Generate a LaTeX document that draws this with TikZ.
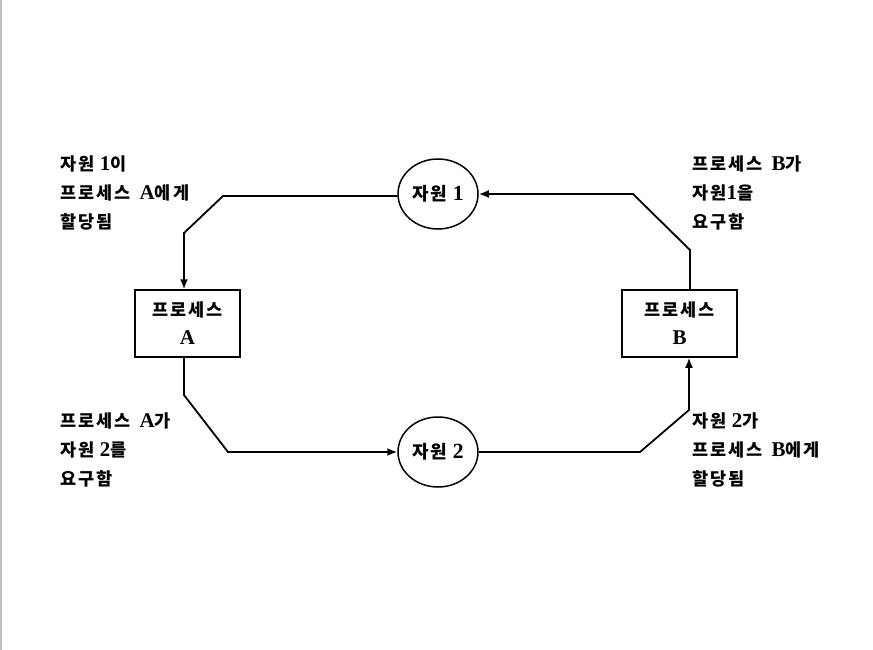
\documentclass[tikz,border=0pt]{standalone}
\usepackage{fontspec}
\setmainfont{Liberation Serif}[Scale=1.2]
\newfontfamily\kr{Noto Sans CJK KR}[LetterSpace=12]
\newcommand{\K}[1]{{\kr #1}}
\usetikzlibrary{shapes.geometric,arrows.meta}
\begin{document}
\begin{tikzpicture}[x=1pt,y=-1pt,
  txt/.style={font=\fontsize{17.5}{29}\selectfont\bfseries, inner sep=0pt},
  res/.style={draw, ellipse, line width=1.5pt, minimum width=80pt, minimum height=70pt, inner sep=0pt, font=\fontsize{18}{20}\selectfont\bfseries},
  proc/.style={draw, rectangle, line width=1.5pt, minimum height=67pt, inner sep=0pt, align=center, font=\fontsize{17.5}{28}\selectfont\bfseries},
  lbl/.style={txt, align=left, anchor=west},
  link/.style={line width=1.8pt},
  arr/.style={link, -{Latex[length=10pt,width=8pt]}}]
\useasboundingbox (0,0) rectangle (873,650);
\draw[gray!50, line width=1.5pt] (0.75,0) -- (0.75,650);
% resources
\node[res] (r1) at (438,194) {\K{자원} 1};
\node[res] (r2) at (438,452) {\K{자원} 2};
% processes
\node[proc, minimum width=105pt] (pA) at (187.5,323.5) {\K{프로세스}\\A};
\node[proc, minimum width=115pt] (pB) at (679.5,323.5) {\K{프로세스}\\B};
% labels
\node[lbl] (tl) at (60,193) {\K{자원} 1\K{이}\\\K{프로세스}\, A\K{에게}\\\K{할당됨}};
\node[lbl] (tr) at (692,193) {\K{프로세스}\, B\K{가}\\\K{자원}1\K{을}\\\K{요구함}};
\node[lbl] (bl) at (60,450) {\K{프로세스}\, A\K{가}\\\K{자원} 2\K{를}\\\K{요구함}};
\node[lbl] (br) at (692,450) {\K{자원} 2\K{가}\\\K{프로세스}\, B\K{에게}\\\K{할당됨}};
% bend points
\coordinate (a1) at (223,196);
\coordinate (a2) at (184,233);
\coordinate (b1) at (184,395);
\coordinate (b2) at (228,452);
\coordinate (c1) at (640,452);
\coordinate (c2) at (689,410);
\coordinate (d1) at (690,250);
\coordinate (d2) at (633,194);
% connectors
\draw[arr] (r1.west |- a1) -- (a1) -- (a2) -- (a2 |- pA.north);
\draw[arr] (b1 |- pA.south) -- (b1) -- (b2) -- (r2.west);
\draw[arr] (r2.east) -- (c1) -- (c2) -- (c2 |- pB.south);
\draw[arr] (d1 |- pB.north) -- (d1) -- (d2) -- (d2 -| r1.east);
\end{tikzpicture}
\end{document}
